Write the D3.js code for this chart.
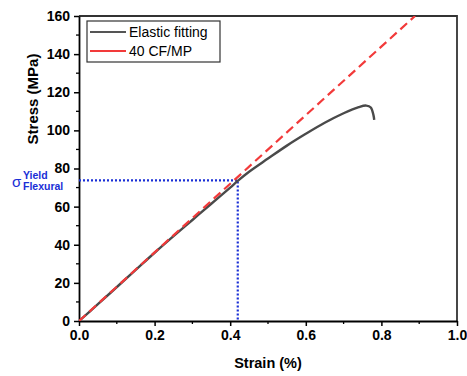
<!DOCTYPE html>
<html>
<head>
<meta charset="utf-8">
<script src="https://cdn.jsdelivr.net/npm/d3@7"></script>
<style>
  body { margin: 0; background: #fff; }
  svg { font-family: "Liberation Sans", Arial, sans-serif; }
</style>
</head>
<body>
<svg width="467" height="376"></svg>
<script>
'use strict';

// measured curve (strain %, stress MPa)
const strain = [0, 0.05, 0.1, 0.15, 0.2, 0.25, 0.3, 0.35, 0.4, 0.42, 0.45, 0.5, 0.55, 0.6, 0.65, 0.7, 0.74, 0.76, 0.772, 0.779, 0.781];
const stress = [0, 8.8, 17.8, 26.8, 35.8, 44.5, 53, 61.5, 70, 73.5, 78.3, 85.2, 92, 98.2, 104, 109, 112.2, 113, 112, 108, 105.5];
// elastic fit line
const fitStrain = [0, 0.889];
const fitStress = [0, 160];
// yield point
const yieldStrain = 0.42;
const yieldStress = 73.8;

const xTicks = [0, 0.2, 0.4, 0.6, 0.8, 1.0];
const yTicks = [0, 20, 40, 60, 80, 100, 120, 140, 160];
const legendNames = ["Elastic fitting", "40 CF/MP"];

const svg = d3.select("svg");
const margin = {top: 16, right: 10, bottom: 55, left: 79};
const width = 457 - margin.left;
const height = 321 - margin.top;

const x = d3.scaleLinear().domain([0, 1]).range([0, width]);
const y = d3.scaleLinear().domain([0, 160]).range([height, 0]);

const g = svg.append("g")
    .attr("transform", "translate(" + margin.left + "," + margin.top + ")");

svg.append("defs").append("clipPath")
    .attr("id", "clip")
    .append("rect")
    .attr("width", width)
    .attr("height", height);

// frame top/right
g.append("path")
    .attr("d", "M0,0H" + width + "V" + height)
    .attr("fill", "none")
    .attr("stroke", "#333")
    .attr("stroke-width", 1.8);

// minor ticks
g.append("g").selectAll("line")
    .data(d3.range(0.1, 1.0, 0.2))
    .join("line")
    .attr("x1", d => x(d)).attr("x2", d => x(d))
    .attr("y1", height).attr("y2", height + 3)
    .attr("stroke", "#000").attr("stroke-width", 1.3);
g.append("g").selectAll("line")
    .data(d3.range(10, 160, 20))
    .join("line")
    .attr("x1", 0).attr("x2", -3)
    .attr("y1", d => y(d)).attr("y2", d => y(d))
    .attr("stroke", "#000").attr("stroke-width", 1.3);

const xAxis = d3.axisBottom(x).tickValues(xTicks).tickFormat(d3.format(".1f")).tickSizeInner(5).tickSizeOuter(0).tickPadding(4);
const yAxis = d3.axisLeft(y).tickValues(yTicks).tickFormat(d3.format("d")).tickSizeInner(5).tickSizeOuter(0).tickPadding(4);

const gx = g.append("g")
    .attr("transform", "translate(0," + height + ")")
    .call(xAxis);
const gy = g.append("g").call(yAxis);

[gx, gy].forEach(a => {
  a.select(".domain").attr("stroke", "#000").attr("stroke-width", 1.8);
  a.selectAll(".tick line").attr("stroke", "#000").attr("stroke-width", 1.5);
  a.selectAll(".tick text")
    .attr("fill", "#000")
    .style("font-size", "14px")
    .style("font-weight", "bold")
    .style("font-family", "'Liberation Sans', Arial, sans-serif");
});

// axis titles
svg.append("text")
    .attr("x", margin.left + width / 2)
    .attr("y", 368)
    .attr("text-anchor", "middle")
    .style("font-size", "14.5px")
    .style("font-weight", "bold")
    .text("Strain (%)");
svg.append("text")
    .attr("transform", "translate(38,99) rotate(-90)")
    .attr("text-anchor", "middle")
    .style("font-size", "15px")
    .style("font-weight", "bold")
    .text("Stress (MPa)");

const plot = g.append("g").attr("clip-path", "url(#clip)");

// yield guide lines
plot.append("path")
    .attr("d", "M" + x(0) + "," + y(yieldStress) + "H" + x(yieldStrain) + "V" + y(0))
    .attr("fill", "none")
    .attr("stroke", "#1a2fd6")
    .attr("stroke-width", 2.2)
    .attr("stroke-dasharray", "2,2");

const line = d3.line().x(d => x(d[0])).y(d => y(d[1]));

plot.append("path")
    .datum(d3.zip(strain, stress))
    .attr("fill", "none")
    .attr("stroke", "#4a4a4a")
    .attr("stroke-width", 2.4)
    .attr("stroke-linejoin", "round")
    .attr("d", d3.line().curve(d3.curveCatmullRom).x(d => x(d[0])).y(d => y(d[1])));

plot.append("path")
    .datum(d3.zip(fitStrain, fitStress))
    .attr("fill", "none")
    .attr("stroke", "#f23a3a")
    .attr("stroke-width", 2.2)
    .attr("stroke-dasharray", "9,5")
    .attr("d", line);

// yield label: sigma with super/subscript
const blue = "#1a2fd6";
svg.append("text")
    .attr("x", 12).attr("y", 187)
    .attr("fill", blue)
    .style("font-size", "15px")
    .text("σ");
svg.append("text")
    .attr("x", 23).attr("y", 179)
    .attr("fill", blue)
    .style("font-size", "10.5px").style("font-weight", "bold")
    .text("Yield");
svg.append("text")
    .attr("x", 23).attr("y", 190)
    .attr("fill", blue)
    .style("font-size", "10.5px").style("font-weight", "bold")
    .text("Flexural");

// legend
const leg = svg.append("g").attr("transform", "translate(87,21)");
leg.append("rect")
    .attr("width", 133).attr("height", 41)
    .attr("fill", "#fff")
    .attr("stroke", "#333").attr("stroke-width", 1.2);
const legColors = ["#555", "#f23a3a"];
legendNames.forEach((name, i) => {
  const yy = 11 + i * 19;
  leg.append("line")
      .attr("x1", 3).attr("x2", 39)
      .attr("y1", yy).attr("y2", yy)
      .attr("stroke", legColors[i]).attr("stroke-width", 1.8);
  leg.append("text")
      .attr("x", 42).attr("y", yy + 5)
      .style("font-size", "14px")
      .text(name);
});
</script>
</body>
</html>
